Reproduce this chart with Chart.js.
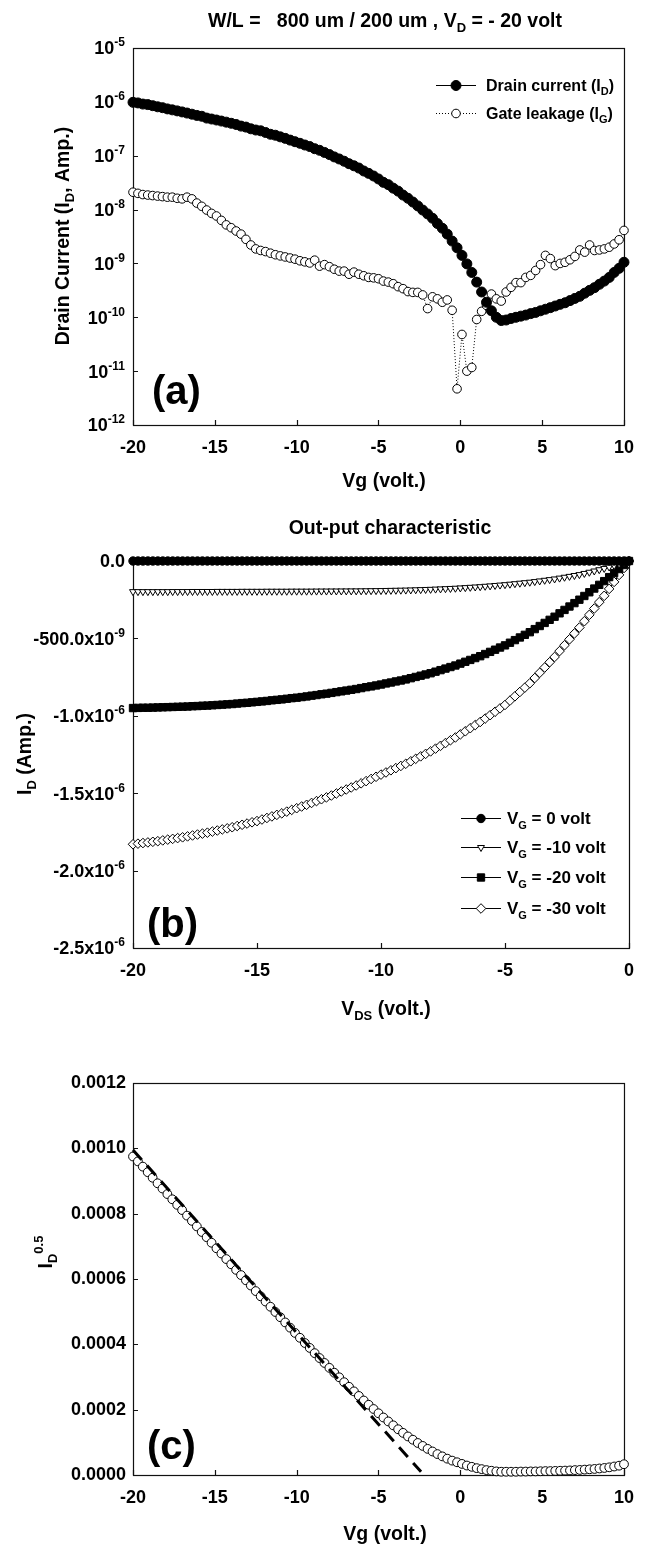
<!DOCTYPE html>
<html>
<head>
<meta charset="utf-8">
<title>TFT transfer and output characteristics</title>
<script src="https://cdn.jsdelivr.net/npm/chart.js@4.4.1/dist/chart.umd.min.js"></script>
<style>
  html, body { margin: 0; padding: 0; background: #fff; }
  #page { position: relative; width: 646px; height: 1548px; }
  canvas { position: absolute; left: 0; }
</style>
</head>
<body>
<div id="page">
  <canvas id="chartA" width="646" height="500" style="top:0px"></canvas>
  <canvas id="chartB" width="646" height="530" style="top:500px"></canvas>
  <canvas id="chartC" width="646" height="518" style="top:1030px"></canvas>
</div>
<script>
"use strict";

// ---------------- data ----------------

// gate voltage sweep (V), panels (a) and (c)
var vg = [
  -20, -19.7, -19.4, -19.1, -18.8, -18.5, -18.2, -17.9, -17.6, -17.3,
  -17, -16.7, -16.4, -16.1, -15.8, -15.5, -15.2, -14.9, -14.6, -14.3,
  -14, -13.7, -13.4, -13.1, -12.8, -12.5, -12.2, -11.9, -11.6, -11.3,
  -11, -10.7, -10.4, -10.1, -9.8, -9.5, -9.2, -8.9, -8.6, -8.3,
  -8, -7.7, -7.4, -7.1, -6.8, -6.5, -6.2, -5.9, -5.6, -5.3,
  -5, -4.7, -4.4, -4.1, -3.8, -3.5, -3.2, -2.9, -2.6, -2.3,
  -2, -1.7, -1.4, -1.1, -0.8, -0.5, -0.2, 0.1, 0.4, 0.7,
  1, 1.3, 1.6, 1.9, 2.2, 2.5, 2.8, 3.1, 3.4, 3.7,
  4, 4.3, 4.6, 4.9, 5.2, 5.5, 5.8, 6.1, 6.4, 6.7,
  7, 7.3, 7.6, 7.9, 8.2, 8.5, 8.8, 9.1, 9.4, 9.7,
  10
];

// (a) drain current, A
var idA = [
  9.8e-7, 9.55e-7, 9.1e-7, 8.9e-7, 8.5e-7, 8.1e-7, 7.8e-7, 7.4e-7, 7.1e-7, 6.8e-7,
  6.5e-7, 6.2e-7, 5.9e-7, 5.6e-7, 5.4e-7, 5.0e-7, 4.8e-7, 4.6e-7, 4.4e-7, 4.2e-7,
  4.0e-7, 3.8e-7, 3.55e-7, 3.4e-7, 3.16e-7, 3.0e-7, 2.9e-7, 2.7e-7, 2.5e-7, 2.4e-7,
  2.24e-7, 2.1e-7, 1.95e-7, 1.82e-7, 1.7e-7, 1.58e-7, 1.48e-7, 1.35e-7, 1.26e-7, 1.15e-7,
  1.05e-7, 9.5e-8, 8.7e-8, 7.9e-8, 7.1e-8, 6.5e-8, 5.9e-8, 5.2e-8, 4.7e-8, 4.2e-8,
  3.7e-8, 3.2e-8, 2.9e-8, 2.5e-8, 2.2e-8, 1.86e-8, 1.62e-8, 1.38e-8, 1.17e-8, 9.8e-9,
  8.3e-9, 6.9e-9, 5.5e-9, 4.5e-9, 3.5e-9, 2.6e-9, 1.95e-9, 1.41e-9, 9.8e-10, 6.8e-10,
  4.5e-10, 2.95e-10, 1.9e-10, 1.32e-10, 1.0e-10, 8.7e-11, 8.9e-11, 9.5e-11, 1.0e-10, 1.05e-10,
  1.1e-10, 1.17e-10, 1.23e-10, 1.32e-10, 1.41e-10, 1.51e-10, 1.62e-10, 1.74e-10, 1.86e-10, 2.04e-10,
  2.24e-10, 2.45e-10, 2.8e-10, 3.16e-10, 3.55e-10, 4.1e-10, 4.7e-10, 5.5e-10, 6.8e-10, 8.1e-10,
  1.05e-9
];

// (a) gate leakage, A
var igA = [
  2.1e-8, 2.0e-8, 1.9e-8, 1.86e-8, 1.82e-8, 1.78e-8, 1.74e-8, 1.7e-8, 1.7e-8, 1.62e-8,
  1.58e-8, 1.7e-8, 1.58e-8, 1.32e-8, 1.15e-8, 9.8e-9, 8.5e-9, 7.6e-9, 6.3e-9, 5.2e-9,
  4.6e-9, 4.0e-9, 3.5e-9, 2.8e-9, 2.2e-9, 1.86e-9, 1.74e-9, 1.66e-9, 1.55e-9, 1.45e-9,
  1.38e-9, 1.32e-9, 1.26e-9, 1.2e-9, 1.12e-9, 1.07e-9, 1.02e-9, 1.15e-9, 8.9e-10, 9.5e-10,
  8.7e-10, 7.8e-10, 7.2e-10, 7.2e-10, 6.3e-10, 6.9e-10, 6.3e-10, 5.9e-10, 5.5e-10, 5.4e-10,
  5.2e-10, 4.7e-10, 4.5e-10, 4.2e-10, 3.7e-10, 3.4e-10, 3.0e-10, 2.9e-10, 2.9e-10, 2.6e-10,
  1.45e-10, 2.4e-10, 2.2e-10, 1.9e-10, 2.1e-10, 1.35e-10, 4.7e-12, 4.8e-11, 1.0e-11, 1.17e-11,
  9.1e-11, 1.29e-10, 1.66e-10, 2.7e-10, 2.2e-10, 2.0e-10, 2.95e-10, 3.6e-10, 4.4e-10, 4.4e-10,
  5.5e-10, 6.0e-10, 7.4e-10, 9.5e-10, 1.41e-9, 1.23e-9, 9.1e-10, 1.0e-9, 1.05e-9, 1.17e-9,
  1.35e-9, 1.78e-9, 1.62e-9, 2.2e-9, 1.74e-9, 1.78e-9, 1.86e-9, 2.0e-9, 2.3e-9, 2.75e-9,
  4.1e-9
];
var aTicks = [1e-12, 1e-11, 1e-10, 1e-9, 1e-8, 1e-7, 1e-6, 1e-5];
var aTickLabels = ['10^{-12}', '10^{-11}', '10^{-10}', '10^{-9}', '10^{-8}', '10^{-7}', '10^{-6}', '10^{-5}'];

// (b) drain-source sweep (V)
var vds = [
  -20, -19.8, -19.6, -19.4, -19.2, -19, -18.8, -18.6, -18.4, -18.2,
  -18, -17.8, -17.6, -17.4, -17.2, -17, -16.8, -16.6, -16.4, -16.2,
  -16, -15.8, -15.6, -15.4, -15.2, -15, -14.8, -14.6, -14.4, -14.2,
  -14, -13.8, -13.6, -13.4, -13.2, -13, -12.8, -12.6, -12.4, -12.2,
  -12, -11.8, -11.6, -11.4, -11.2, -11, -10.8, -10.6, -10.4, -10.2,
  -10, -9.8, -9.6, -9.4, -9.2, -9, -8.8, -8.6, -8.4, -8.2,
  -8, -7.8, -7.6, -7.4, -7.2, -7, -6.8, -6.6, -6.4, -6.2,
  -6, -5.8, -5.6, -5.4, -5.2, -5, -4.8, -4.6, -4.4, -4.2,
  -4, -3.8, -3.6, -3.4, -3.2, -3, -2.8, -2.6, -2.4, -2.2,
  -2, -1.8, -1.6, -1.4, -1.2, -1, -0.8, -0.6, -0.4, -0.2,
  0
];

// (b) drain current in nA for each gate voltage
var idVg0 = [
  0, 0, 0, 0, 0, 0, 0, 0, 0, 0,
  0, 0, 0, 0, 0, 0, 0, 0, 0, 0,
  0, 0, 0, 0, 0, 0, 0, 0, 0, 0,
  0, 0, 0, 0, 0, 0, 0, 0, 0, 0,
  0, 0, 0, 0, 0, 0, 0, 0, 0, 0,
  0, 0, 0, 0, 0, 0, 0, 0, 0, 0,
  0, 0, 0, 0, 0, 0, 0, 0, 0, 0,
  0, 0, 0, 0, 0, 0, 0, 0, 0, 0,
  0, 0, 0, 0, 0, 0, 0, 0, 0, 0,
  0, 0, 0, 0, 0, 0, 0, 0, 0, 0,
  0
];
var idVg10 = [
  -198, -198, -198, -198, -198, -198, -198, -198, -197.5, -197.5,
  -197.5, -197.5, -197, -197, -197, -197, -197, -196.5, -196.5, -196.5,
  -196.5, -196.5, -196, -196, -196, -196, -196, -195.5, -195.5, -195.5,
  -195.5, -195.5, -195, -195, -195, -195, -194.8, -194.5, -194.3, -194.2,
  -194, -193.8, -193.6, -193.4, -193.2, -193, -192.6, -192.2, -191.8, -191.4,
  -191, -190.4, -189.8, -189.2, -188.6, -188, -187, -186, -185, -184,
  -183, -181.6, -180.2, -178.8, -177.4, -176, -174, -172, -170, -168,
  -166, -163.4, -160.8, -158.2, -155.6, -153, -149.8, -146.6, -143.4, -140.2,
  -137, -133, -128.8, -124.6, -120.4, -116, -110.6, -105, -99.4, -93.8,
  -88, -80.4, -72.6, -64.6, -56.4, -48, -38.8, -29.4, -19.8, -10,
  0
];
var idVg20 = [
  -950, -949, -948, -948, -947, -946, -945, -944, -943, -942,
  -941, -940, -938, -937, -935, -934, -932, -930, -928, -926,
  -924, -921, -918, -916, -913, -910, -907, -904, -900, -897,
  -894, -890, -886, -883, -879, -875, -870, -866, -861, -857,
  -852, -847, -842, -837, -832, -827, -821, -815, -810, -804,
  -798, -791, -785, -778, -772, -765, -757, -749, -741, -733,
  -725, -715, -705, -695, -685, -675, -663, -651, -639, -627,
  -615, -601, -587, -573, -559, -545, -528, -511, -494, -477,
  -460, -440, -420, -400, -380, -360, -338, -316, -294, -272,
  -250, -226, -202, -178, -154, -130, -104, -78, -52, -26,
  0
];
var idVg30 = [
  -1830, -1826, -1822, -1818, -1814, -1810, -1805, -1800, -1795, -1790,
  -1785, -1779, -1773, -1767, -1761, -1755, -1748, -1741, -1734, -1727,
  -1720, -1712, -1704, -1696, -1688, -1680, -1670, -1660, -1650, -1640,
  -1630, -1619, -1608, -1597, -1586, -1575, -1563, -1551, -1539, -1527,
  -1515, -1502, -1489, -1476, -1463, -1450, -1436, -1422, -1408, -1394,
  -1380, -1366, -1352, -1338, -1324, -1310, -1294, -1278, -1262, -1246,
  -1230, -1212, -1194, -1176, -1158, -1140, -1120, -1100, -1080, -1060,
  -1040, -1018, -996, -974, -952, -930, -902, -874, -846, -818,
  -790, -756, -722, -688, -654, -620, -582, -544, -506, -468,
  -430, -389, -348, -307, -266, -225, -180, -135, -90, -45,
  0
];
var bTicks = [-2.5e-6, -2.0e-6, -1.5e-6, -1.0e-6, -0.5e-6, 0];
var bTickLabels = ['-2.5x10^{-6}', '-2.0x10^{-6}', '-1.5x10^{-6}', '-1.0x10^{-6}', '-500.0x10^{-9}', '0.0'];

// (c) square root of drain current
var sqrtId = [
  9.75e-4, 9.60e-4, 9.44e-4, 9.27e-4, 9.10e-4, 8.93e-4, 8.77e-4, 8.60e-4, 8.44e-4, 8.27e-4,
  8.11e-4, 7.94e-4, 7.78e-4, 7.61e-4, 7.44e-4, 7.28e-4, 7.11e-4, 6.94e-4, 6.78e-4, 6.61e-4,
  6.45e-4, 6.28e-4, 6.12e-4, 5.96e-4, 5.80e-4, 5.63e-4, 5.47e-4, 5.31e-4, 5.15e-4, 4.99e-4,
  4.83e-4, 4.67e-4, 4.51e-4, 4.35e-4, 4.20e-4, 4.04e-4, 3.89e-4, 3.73e-4, 3.58e-4, 3.43e-4,
  3.28e-4, 3.13e-4, 2.99e-4, 2.84e-4, 2.70e-4, 2.56e-4, 2.42e-4, 2.28e-4, 2.15e-4, 2.02e-4,
  1.89e-4, 1.76e-4, 1.64e-4, 1.52e-4, 1.40e-4, 1.29e-4, 1.18e-4, 1.08e-4, 9.8e-5, 8.9e-5,
  8.0e-5, 7.2e-5, 6.4e-5, 5.7e-5, 5.0e-5, 4.4e-5, 3.9e-5, 3.4e-5, 2.9e-5, 2.5e-5,
  2.1e-5, 1.8e-5, 1.5e-5, 1.3e-5, 1.1e-5, 1.0e-5, 1.0e-5, 1.0e-5, 1.0e-5, 1.05e-5,
  1.05e-5, 1.1e-5, 1.1e-5, 1.15e-5, 1.2e-5, 1.2e-5, 1.25e-5, 1.3e-5, 1.35e-5, 1.4e-5,
  1.5e-5, 1.55e-5, 1.65e-5, 1.75e-5, 1.85e-5, 2.0e-5, 2.15e-5, 2.35e-5, 2.6e-5, 2.85e-5,
  3.3e-5
];
// (c) dashed linear fit, end points
var fitVg = [-20, -2.4];
var fitSqrt = [0.000995, 0.00001];


// ---------------- helpers ----------------

var FONT = '"Liberation Sans", Arial, Helvetica, sans-serif';
Chart.defaults.font.family = FONT;
Chart.defaults.color = '#000';

function pts(xs, ys, k) {
  k = k || 1;
  return xs.map(function (x, i) { return {x: x, y: ys[i] * k}; });
}

// text with _{sub} and ^{sup} pieces
function parseRich(str) {
  var parts = [], re = /([_^])\{([^}]*)\}/g, last = 0, m;
  while ((m = re.exec(str))) {
    if (m.index > last) parts.push({t: str.slice(last, m.index), m: ''});
    parts.push({t: m[2], m: m[1]});
    last = re.lastIndex;
  }
  if (last < str.length) parts.push({t: str.slice(last), m: ''});
  return parts;
}

function drawRich(ctx, str, x, y, size, align) {
  var parts = parseRich(str);
  var small = Math.round(size * 0.66);
  var w = 0;
  parts.forEach(function (p) {
    ctx.font = 'bold ' + (p.m ? small : size) + 'px ' + FONT;
    p.w = ctx.measureText(p.t).width;
    w += p.w;
  });
  var cx = align === 'center' ? x - w / 2 : (align === 'right' ? x - w : x);
  var base = y + size * 0.36;
  ctx.textAlign = 'left';
  ctx.textBaseline = 'alphabetic';
  parts.forEach(function (p) {
    ctx.font = 'bold ' + (p.m ? small : size) + 'px ' + FONT;
    var dy = p.m === '_' ? size * 0.28 : (p.m === '^' ? -size * 0.45 : 0);
    ctx.fillText(p.t, cx, base + dy);
    cx += p.w;
  });
}

// frame, inward ticks, titles, legend, panel letter
function makeDeco(cfg) {
  return {
    id: 'deco',
    beforeDatasetsDraw: function (chart) {
      var ctx = chart.ctx, a = chart.chartArea;
      var xs = chart.scales.x, ys = chart.scales.y;
      ctx.save();
      ctx.strokeStyle = '#111';
      ctx.lineWidth = 1.2;
      ctx.strokeRect(a.left + 0.5, a.top + 0.5, a.right - a.left, a.bottom - a.top);
      ctx.beginPath();
      xs.ticks.forEach(function (t) {
        var px = Math.round(xs.getPixelForValue(t.value)) + 0.5;
        ctx.moveTo(px, a.bottom);
        ctx.lineTo(px, a.bottom - 5);
      });
      ys.ticks.forEach(function (t) {
        var py = Math.round(ys.getPixelForValue(t.value)) + 0.5;
        ctx.moveTo(a.left, py);
        ctx.lineTo(a.left + 5, py);
      });
      ctx.stroke();
      ctx.restore();
    },
    afterDraw: function (chart) {
      var ctx = chart.ctx, a = chart.chartArea, ys = chart.scales.y;
      ctx.save();
      ctx.fillStyle = '#000';
      if (cfg.yLabels) {
        ys.ticks.forEach(function (t, i) {
          drawRich(ctx, cfg.yLabels[i], a.left - 8, ys.getPixelForValue(t.value), 18, 'right');
        });
      }
      if (cfg.title) drawRich(ctx, cfg.title.text, cfg.title.x, cfg.title.y, 19.5, 'center');
      if (cfg.xTitle) drawRich(ctx, cfg.xTitle.text, cfg.xTitle.x, cfg.xTitle.y, 19.5, 'center');
      if (cfg.yTitle) {
        ctx.save();
        ctx.translate(cfg.yTitle.x, cfg.yTitle.y);
        ctx.rotate(-Math.PI / 2);
        drawRich(ctx, cfg.yTitle.text, 0, 0, 19.5, 'center');
        ctx.restore();
      }
      if (cfg.letter) {
        ctx.font = 'bold 40px ' + FONT;
        ctx.textAlign = 'left';
        ctx.textBaseline = 'middle';
        ctx.fillText(cfg.letter.text, cfg.letter.x, cfg.letter.y);
      }
      if (cfg.legend) {
        var lg = cfg.legend;
        lg.rows.forEach(function (row) {
          var ds = chart.data.datasets[row.ds];
          ctx.save();
          ctx.strokeStyle = '#000';
          ctx.lineWidth = 1;
          ctx.setLineDash(ds.borderDash || []);
          ctx.beginPath();
          ctx.moveTo(lg.x1, row.y + 0.5);
          ctx.lineTo(lg.x2, row.y + 0.5);
          ctx.stroke();
          ctx.setLineDash([]);
          ctx.fillStyle = ds.pointBackgroundColor;
          ctx.strokeStyle = ds.pointBorderColor;
          ctx.lineWidth = ds.pointBorderWidth || 1;
          Chart.helpers.drawPoint(ctx, {
            pointStyle: ds.pointStyle || 'circle',
            rotation: ds.rotation || 0,
            radius: ds.pointRadius,
            borderWidth: ds.pointBorderWidth || 1
          }, (lg.x1 + lg.x2) / 2, row.y + 0.5);
          ctx.restore();
          ctx.fillStyle = '#000';
          drawRich(ctx, row.text, lg.tx, row.y, lg.size, 'left');
        });
      }
      ctx.restore();
    }
  };
}

function xAxis(min, max) {
  return {
    type: 'linear', min: min, max: max,
    ticks: {stepSize: 5, padding: 12, maxRotation: 0, color: '#000', font: {size: 18, weight: 'bold'}},
    grid: {display: false, drawTicks: false},
    border: {display: false},
    afterFit: function (s) { s.height = 60; }
  };
}

function baseOptions(padding, scales) {
  return {
    responsive: false,
    animation: false,
    events: [],
    devicePixelRatio: 1,
    layout: {padding: padding},
    plugins: {legend: {display: false}, tooltip: {enabled: false}},
    scales: scales
  };
}


// ---------------- (a) transfer curve, log scale ----------------
new Chart(document.getElementById('chartA'), {
  type: 'scatter',
  data: {
    datasets: [{
      data: pts(vg, idA),
      showLine: true, borderColor: '#000', borderWidth: 1,
      pointRadius: 5, pointBackgroundColor: '#000', pointBorderColor: '#000', pointBorderWidth: 1,
      clip: false
    }, {
      data: pts(vg, igA),
      showLine: true, borderColor: '#000', borderWidth: 1, borderDash: [1, 2],
      pointRadius: 4.3, pointBackgroundColor: '#fff', pointBorderColor: '#000', pointBorderWidth: 1,
      clip: false
    }]
  },
  options: baseOptions({left: 0, top: 48, right: 10, bottom: 15}, {
    x: xAxis(-20, 10),
    y: {
      type: 'logarithmic', min: 1e-12, max: 1e-5,
      afterBuildTicks: function (s) { s.ticks = aTicks.map(function (v) { return {value: v}; }); },
      ticks: {display: false},
      grid: {display: false, drawTicks: false},
      border: {display: false},
      afterFit: function (s) { s.width = 133; }
    }
  }),
  plugins: [makeDeco({
    title: {text: 'W/L =   800 um / 200 um , V_{D} = - 20 volt', x: 385, y: 20},
    xTitle: {text: 'Vg (volt.)', x: 384, y: 480},
    yTitle: {text: 'Drain Current (I_{D}, Amp.)', x: 62, y: 236},
    letter: {text: '(a)', x: 152, y: 393},
    yLabels: aTickLabels,
    legend: {x1: 436, x2: 476, tx: 486, size: 16, rows: [
      {ds: 0, y: 85, text: 'Drain current (I_{D})'},
      {ds: 1, y: 113, text: 'Gate leakage (I_{G})'}
    ]}
  })]
});


// ---------------- (b) output characteristic ----------------
new Chart(document.getElementById('chartB'), {
  type: 'scatter',
  data: {
    datasets: [{
      data: pts(vds, idVg0, 1e-9),
      showLine: true, borderColor: '#000', borderWidth: 1,
      pointStyle: 'circle', pointRadius: 4.2, pointBackgroundColor: '#000', pointBorderColor: '#000', pointBorderWidth: 1,
      clip: false
    }, {
      data: pts(vds, idVg10, 1e-9),
      showLine: true, borderColor: '#000', borderWidth: 1,
      pointStyle: 'triangle', rotation: 180, pointRadius: 4, pointBackgroundColor: '#fff', pointBorderColor: '#000', pointBorderWidth: 1,
      clip: false
    }, {
      data: pts(vds, idVg20, 1e-9),
      showLine: true, borderColor: '#000', borderWidth: 1,
      pointStyle: 'rect', pointRadius: 5.2, pointBackgroundColor: '#000', pointBorderColor: '#000', pointBorderWidth: 1,
      clip: false
    }, {
      data: pts(vds, idVg30, 1e-9),
      showLine: true, borderColor: '#000', borderWidth: 1,
      pointStyle: 'rectRot', pointRadius: 4.8, pointBackgroundColor: '#fff', pointBorderColor: '#000', pointBorderWidth: 1,
      clip: false
    }]
  },
  options: baseOptions({left: 0, top: 61, right: 6, bottom: 22}, {
    x: xAxis(-20, 0),
    y: {
      type: 'linear', min: -2.5e-6, max: 0,
      afterBuildTicks: function (s) { s.ticks = bTicks.map(function (v) { return {value: v}; }); },
      ticks: {display: false},
      grid: {display: false, drawTicks: false},
      border: {display: false},
      afterFit: function (s) { s.width = 133; }
    }
  }),
  plugins: [makeDeco({
    title: {text: 'Out-put characteristic', x: 390, y: 27},
    xTitle: {text: 'V_{DS} (volt.)', x: 386, y: 508},
    yTitle: {text: 'I_{D} (Amp.)', x: 24, y: 254},
    letter: {text: '(b)', x: 147, y: 426},
    yLabels: bTickLabels,
    legend: {x1: 461, x2: 501, tx: 507, size: 17, rows: [
      {ds: 0, y: 318, text: 'V_{G} = 0 volt'},
      {ds: 1, y: 347, text: 'V_{G} = -10 volt'},
      {ds: 2, y: 377, text: 'V_{G} = -20 volt'},
      {ds: 3, y: 408, text: 'V_{G} = -30 volt'}
    ]}
  })]
});


// ---------------- (c) sqrt(ID) vs Vg ----------------
new Chart(document.getElementById('chartC'), {
  type: 'scatter',
  data: {
    datasets: [{
      data: pts(fitVg, fitSqrt),
      showLine: true, borderColor: '#000', borderWidth: 3, borderDash: [13, 8],
      pointRadius: 0,
      clip: false
    }, {
      data: pts(vg, sqrtId),
      showLine: true, borderColor: '#000', borderWidth: 1,
      pointRadius: 4.4, pointBackgroundColor: '#fff', pointBorderColor: '#000', pointBorderWidth: 1,
      clip: false
    }]
  },
  options: baseOptions({left: 0, top: 53, right: 10, bottom: 13}, {
    x: xAxis(-20, 10),
    y: {
      type: 'linear', min: 0, max: 0.0012,
      ticks: {
        stepSize: 0.0002, padding: 7, color: '#000', font: {size: 18, weight: 'bold'},
        callback: function (v) { return v.toFixed(4); }
      },
      grid: {display: false, drawTicks: false},
      border: {display: false},
      afterFit: function (s) { s.width = 133; }
    }
  }),
  plugins: [makeDeco({
    xTitle: {text: 'Vg (volt.)', x: 385, y: 503},
    yTitle: {text: 'I_{D}^{0.5}', x: 45, y: 222},
    letter: {text: '(c)', x: 147, y: 418}
  })]
});
</script>
</body>
</html>
